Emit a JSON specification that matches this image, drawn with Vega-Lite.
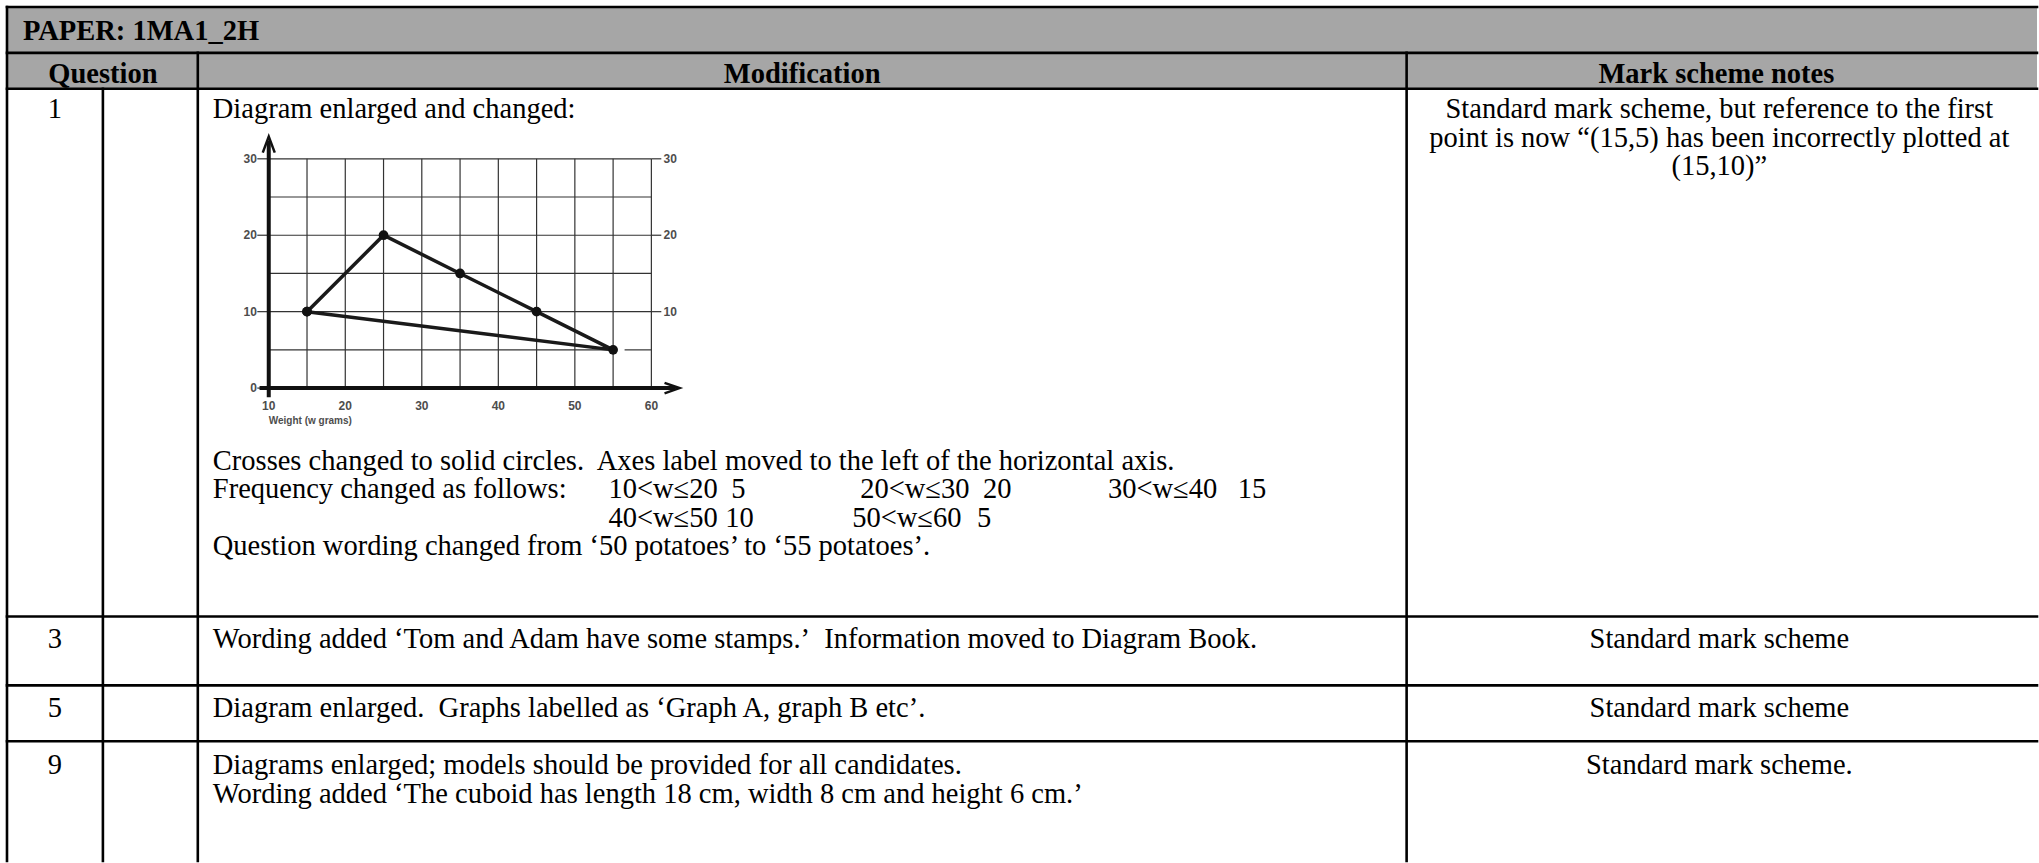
{
  "$schema": "https://vega.github.io/schema/vega-lite/v6.json",
  "width": 2039,
  "height": 863,
  "autosize": {"type": "fit", "contains": "padding"},
  "padding": 0,
  "background": "#ffffff",
  "config": {"view": {"stroke": null}},
  "datasets": {
    "fills": [{"x1": 7, "x2": 2039, "y1": 7, "y2": 89}],
    "lines": [
      {"x1": 7, "x2": 2039, "y1": 7, "y2": 7},
      {"x1": 7, "x2": 2039, "y1": 53, "y2": 53},
      {"x1": 7, "x2": 2039, "y1": 89, "y2": 89},
      {"x1": 7, "x2": 2039, "y1": 618, "y2": 618},
      {"x1": 7, "x2": 2039, "y1": 687, "y2": 687},
      {"x1": 7, "x2": 2039, "y1": 743, "y2": 743},
      {"x1": 7, "x2": 7, "y1": 7, "y2": 863},
      {"x1": 103, "x2": 103, "y1": 89, "y2": 863},
      {"x1": 198, "x2": 198, "y1": 53, "y2": 863},
      {"x1": 1408, "x2": 1408, "y1": 53, "y2": 863}
    ],
    "title": [{"t": "PAPER: 1MA1_2H", "x": 23, "y": 40}],
    "heads": [
      {"t": "Question", "x": 103, "y": 83},
      {"t": "Modification", "x": 803, "y": 83},
      {"t": "Mark scheme notes", "x": 1718, "y": 83}
    ],
    "centered": [
      {"t": "1", "x": 55, "y": 118},
      {"t": "3", "x": 55, "y": 650},
      {"t": "5", "x": 55, "y": 719},
      {"t": "9", "x": 55, "y": 776},
      {"t": "Standard mark scheme, but reference to the first", "x": 1721, "y": 118},
      {"t": "point is now “(15,5) has been incorrectly plotted at", "x": 1721, "y": 147},
      {"t": "(15,10)”", "x": 1721, "y": 175},
      {"t": "Standard mark scheme", "x": 1721, "y": 650},
      {"t": "Standard mark scheme", "x": 1721, "y": 719},
      {"t": "Standard mark scheme.", "x": 1721, "y": 776}
    ],
    "lefts": [
      {"t": "Diagram enlarged and changed:", "x": 213, "y": 118},
      {"t": "Crosses changed to solid circles.\u00a0 Axes label moved to the left of the horizontal axis.", "x": 213, "y": 471},
      {"t": "Frequency changed as follows:", "x": 213, "y": 499},
      {"t": "10<w≤20", "x": 609, "y": 499},
      {"t": "5", "x": 732, "y": 499},
      {"t": "20<w≤30", "x": 861, "y": 499},
      {"t": "20", "x": 984, "y": 499},
      {"t": "30<w≤40", "x": 1109, "y": 499},
      {"t": "15", "x": 1239, "y": 499},
      {"t": "40<w≤50", "x": 609, "y": 528},
      {"t": "10", "x": 726, "y": 528},
      {"t": "50<w≤60", "x": 853, "y": 528},
      {"t": "5", "x": 978, "y": 528},
      {"t": "Question wording changed from ‘50 potatoes’ to ‘55 potatoes’.", "x": 213, "y": 556},
      {"t": "Wording added ‘Tom and Adam have some stamps.’\u00a0 Information moved to Diagram Book.", "x": 213, "y": 650},
      {"t": "Diagram enlarged.\u00a0 Graphs labelled as ‘Graph A, graph B etc’.", "x": 213, "y": 719},
      {"t": "Diagrams enlarged; models should be provided for all candidates.", "x": 213, "y": 776},
      {"t": "Wording added ‘The cuboid has length 18 cm, width 8 cm and height 6 cm.’", "x": 213, "y": 805}
    ],
    "grid": [
      {"w": 15, "w2": 15, "f": 0, "f2": 30},
      {"w": 20, "w2": 20, "f": 0, "f2": 30},
      {"w": 25, "w2": 25, "f": 0, "f2": 30},
      {"w": 30, "w2": 30, "f": 0, "f2": 30},
      {"w": 35, "w2": 35, "f": 0, "f2": 30},
      {"w": 40, "w2": 40, "f": 0, "f2": 30},
      {"w": 45, "w2": 45, "f": 0, "f2": 30},
      {"w": 50, "w2": 50, "f": 0, "f2": 30},
      {"w": 55, "w2": 55, "f": 0, "f2": 30},
      {"w": 60, "w2": 60, "f": 0, "f2": 30},
      {"w": 10, "w2": 55, "f": 5, "f2": 5},
      {"w": 56.5, "w2": 60, "f": 5, "f2": 5},
      {"w": 10, "w2": 60, "f": 10, "f2": 10},
      {"w": 10, "w2": 60, "f": 15, "f2": 15},
      {"w": 10, "w2": 60, "f": 20, "f2": 20},
      {"w": 10, "w2": 60, "f": 25, "f2": 25},
      {"w": 10, "w2": 60, "f": 30, "f2": 30},
      {"w": 8.5, "w2": 10, "f": 0, "f2": 0},
      {"w": 8.5, "w2": 10, "f": 10, "f2": 10},
      {"w": 8.5, "w2": 10, "f": 20, "f2": 20},
      {"w": 8.5, "w2": 10, "f": 30, "f2": 30},
      {"w": 60, "w2": 61.3, "f": 10, "f2": 10},
      {"w": 60, "w2": 61.3, "f": 20, "f2": 20},
      {"w": 60, "w2": 61.3, "f": 30, "f2": 30}
    ],
    "axes": [
      {"w": 10, "w2": 10, "f": -1.2, "f2": 32.4},
      {"w": 8.8, "w2": 63.2, "f": 0, "f2": 0}
    ],
    "arrowUp": [{"w": 10, "f": 31.85}],
    "arrowRight": [{"w": 62.7, "f": 0}],
    "freq": [
      {"w": 15, "f": 10, "o": 1},
      {"w": 25, "f": 20, "o": 2},
      {"w": 35, "f": 15, "o": 3},
      {"w": 45, "f": 10, "o": 4},
      {"w": 55, "f": 5, "o": 5},
      {"w": 15, "f": 10, "o": 6}
    ],
    "ylabL": [{"f": 0, "w": 8.45}, {"f": 10, "w": 8.45}, {"f": 20, "w": 8.45}, {"f": 30, "w": 8.45}],
    "ylabR": [{"f": 10, "w": 61.6}, {"f": 20, "w": 61.6}, {"f": 30, "w": 61.6}],
    "xlab": [
      {"w": 10, "f": -2.35}, {"w": 20, "f": -2.35}, {"w": 30, "f": -2.35},
      {"w": 40, "f": -2.35}, {"w": 50, "f": -2.35}, {"w": 60, "f": -2.35}
    ],
    "axTitle": [{"t": "Weight (w grams)", "w": 10, "f": -4.3}]
  },
  "layer": [
    {
      "layer": [
        {
          "data": {"name": "fills"},
          "mark": {"type": "rect", "color": "#a6a6a6"},
          "encoding": {
            "x": {"field": "x1", "type": "quantitative", "scale": {"domain": [0, 2039], "nice": false, "zero": false}, "axis": null},
            "x2": {"field": "x2"},
            "y": {"field": "y1", "type": "quantitative", "scale": {"domain": [0, 863], "reverse": true, "nice": false, "zero": false}, "axis": null},
            "y2": {"field": "y2"}
          }
        },
        {
          "data": {"name": "lines"},
          "mark": {"type": "rule", "color": "#000000", "strokeWidth": 2.6, "strokeCap": "square"},
          "encoding": {
            "x": {"field": "x1", "type": "quantitative", "scale": {"domain": [0, 2039], "nice": false, "zero": false}, "axis": null},
            "x2": {"field": "x2"},
            "y": {"field": "y1", "type": "quantitative", "scale": {"domain": [0, 863], "reverse": true, "nice": false, "zero": false}, "axis": null},
            "y2": {"field": "y2"}
          }
        },
        {
          "data": {"name": "title"},
          "mark": {"type": "text", "font": "Liberation Serif", "fontSize": 28.5, "fontWeight": "bold", "align": "left", "baseline": "alphabetic", "color": "#000000"},
          "encoding": {
            "x": {"field": "x", "type": "quantitative", "scale": {"domain": [0, 2039], "nice": false, "zero": false}, "axis": null},
            "y": {"field": "y", "type": "quantitative", "scale": {"domain": [0, 863], "reverse": true, "nice": false, "zero": false}, "axis": null},
            "text": {"field": "t"}
          }
        },
        {
          "data": {"name": "heads"},
          "mark": {"type": "text", "font": "Liberation Serif", "fontSize": 28.5, "fontWeight": "bold", "align": "center", "baseline": "alphabetic", "color": "#000000"},
          "encoding": {
            "x": {"field": "x", "type": "quantitative", "scale": {"domain": [0, 2039], "nice": false, "zero": false}, "axis": null},
            "y": {"field": "y", "type": "quantitative", "scale": {"domain": [0, 863], "reverse": true, "nice": false, "zero": false}, "axis": null},
            "text": {"field": "t"}
          }
        },
        {
          "data": {"name": "centered"},
          "mark": {"type": "text", "font": "Liberation Serif", "fontSize": 28.5, "align": "center", "baseline": "alphabetic", "color": "#000000"},
          "encoding": {
            "x": {"field": "x", "type": "quantitative", "scale": {"domain": [0, 2039], "nice": false, "zero": false}, "axis": null},
            "y": {"field": "y", "type": "quantitative", "scale": {"domain": [0, 863], "reverse": true, "nice": false, "zero": false}, "axis": null},
            "text": {"field": "t"}
          }
        },
        {
          "data": {"name": "lefts"},
          "mark": {"type": "text", "font": "Liberation Serif", "fontSize": 28.5, "align": "left", "baseline": "alphabetic", "color": "#000000"},
          "encoding": {
            "x": {"field": "x", "type": "quantitative", "scale": {"domain": [0, 2039], "nice": false, "zero": false}, "axis": null},
            "y": {"field": "y", "type": "quantitative", "scale": {"domain": [0, 863], "reverse": true, "nice": false, "zero": false}, "axis": null},
            "text": {"field": "t"}
          }
        }
      ]
    },
    {
      "layer": [
        {
          "data": {"name": "grid"},
          "mark": {"type": "rule", "color": "#333333", "strokeWidth": 1.2},
          "encoding": {
            "x": {"field": "w", "type": "quantitative", "scale": {"domain": [-25.12, 241.07], "nice": false, "zero": false}, "axis": null},
            "x2": {"field": "w2"},
            "y": {"field": "f", "type": "quantitative", "scale": {"domain": [-61.88, 50.78], "nice": false, "zero": false}, "axis": null},
            "y2": {"field": "f2"}
          }
        },
        {
          "data": {"name": "axes"},
          "mark": {"type": "rule", "color": "#111111", "strokeWidth": 4},
          "encoding": {
            "x": {"field": "w", "type": "quantitative", "scale": {"domain": [-25.12, 241.07], "nice": false, "zero": false}, "axis": null},
            "x2": {"field": "w2"},
            "y": {"field": "f", "type": "quantitative", "scale": {"domain": [-61.88, 50.78], "nice": false, "zero": false}, "axis": null},
            "y2": {"field": "f2"}
          }
        },
        {
          "data": {"name": "arrowUp"},
          "mark": {"type": "point", "shape": "M-0.75,1L0,-1L0.75,1", "filled": false, "stroke": "#111111", "strokeWidth": 2.5, "size": 256, "opacity": 1},
          "encoding": {
            "x": {"field": "w", "type": "quantitative", "scale": {"domain": [-25.12, 241.07], "nice": false, "zero": false}, "axis": null},
            "y": {"field": "f", "type": "quantitative", "scale": {"domain": [-61.88, 50.78], "nice": false, "zero": false}, "axis": null}
          }
        },
        {
          "data": {"name": "arrowRight"},
          "mark": {"type": "point", "shape": "M-1,-0.7L1,0L-1,0.7", "filled": false, "stroke": "#111111", "strokeWidth": 2.5, "size": 225, "opacity": 1},
          "encoding": {
            "x": {"field": "w", "type": "quantitative", "scale": {"domain": [-25.12, 241.07], "nice": false, "zero": false}, "axis": null},
            "y": {"field": "f", "type": "quantitative", "scale": {"domain": [-61.88, 50.78], "nice": false, "zero": false}, "axis": null}
          }
        },
        {
          "data": {"name": "freq"},
          "mark": {"type": "line", "color": "#1a1a1a", "strokeWidth": 3.5},
          "encoding": {
            "x": {"field": "w", "type": "quantitative", "scale": {"domain": [-25.12, 241.07], "nice": false, "zero": false}, "axis": null},
            "y": {"field": "f", "type": "quantitative", "scale": {"domain": [-61.88, 50.78], "nice": false, "zero": false}, "axis": null},
            "order": {"field": "o", "type": "quantitative"}
          }
        },
        {
          "data": {"name": "freq"},
          "mark": {"type": "circle", "color": "#111111", "size": 95, "opacity": 1},
          "encoding": {
            "x": {"field": "w", "type": "quantitative", "scale": {"domain": [-25.12, 241.07], "nice": false, "zero": false}, "axis": null},
            "y": {"field": "f", "type": "quantitative", "scale": {"domain": [-61.88, 50.78], "nice": false, "zero": false}, "axis": null}
          }
        },
        {
          "data": {"name": "ylabL"},
          "mark": {"type": "text", "font": "Liberation Sans", "fontSize": 12, "fontWeight": "bold", "align": "right", "baseline": "middle", "color": "#4d4d4d"},
          "encoding": {
            "x": {"field": "w", "type": "quantitative", "scale": {"domain": [-25.12, 241.07], "nice": false, "zero": false}, "axis": null},
            "y": {"field": "f", "type": "quantitative", "scale": {"domain": [-61.88, 50.78], "nice": false, "zero": false}, "axis": null},
            "text": {"field": "f", "type": "quantitative"}
          }
        },
        {
          "data": {"name": "ylabR"},
          "mark": {"type": "text", "font": "Liberation Sans", "fontSize": 12, "fontWeight": "bold", "align": "left", "baseline": "middle", "color": "#4d4d4d"},
          "encoding": {
            "x": {"field": "w", "type": "quantitative", "scale": {"domain": [-25.12, 241.07], "nice": false, "zero": false}, "axis": null},
            "y": {"field": "f", "type": "quantitative", "scale": {"domain": [-61.88, 50.78], "nice": false, "zero": false}, "axis": null},
            "text": {"field": "f", "type": "quantitative"}
          }
        },
        {
          "data": {"name": "xlab"},
          "mark": {"type": "text", "font": "Liberation Sans", "fontSize": 12, "fontWeight": "bold", "align": "center", "baseline": "middle", "color": "#4d4d4d"},
          "encoding": {
            "x": {"field": "w", "type": "quantitative", "scale": {"domain": [-25.12, 241.07], "nice": false, "zero": false}, "axis": null},
            "y": {"field": "f", "type": "quantitative", "scale": {"domain": [-61.88, 50.78], "nice": false, "zero": false}, "axis": null},
            "text": {"field": "w", "type": "quantitative"}
          }
        },
        {
          "data": {"name": "axTitle"},
          "mark": {"type": "text", "font": "Liberation Sans", "fontSize": 10, "fontWeight": "bold", "align": "left", "baseline": "middle", "color": "#4d4d4d"},
          "encoding": {
            "x": {"field": "w", "type": "quantitative", "scale": {"domain": [-25.12, 241.07], "nice": false, "zero": false}, "axis": null},
            "y": {"field": "f", "type": "quantitative", "scale": {"domain": [-61.88, 50.78], "nice": false, "zero": false}, "axis": null},
            "text": {"field": "t"}
          }
        }
      ]
    }
  ],
  "resolve": {"scale": {"x": "independent", "y": "independent"}}
}
